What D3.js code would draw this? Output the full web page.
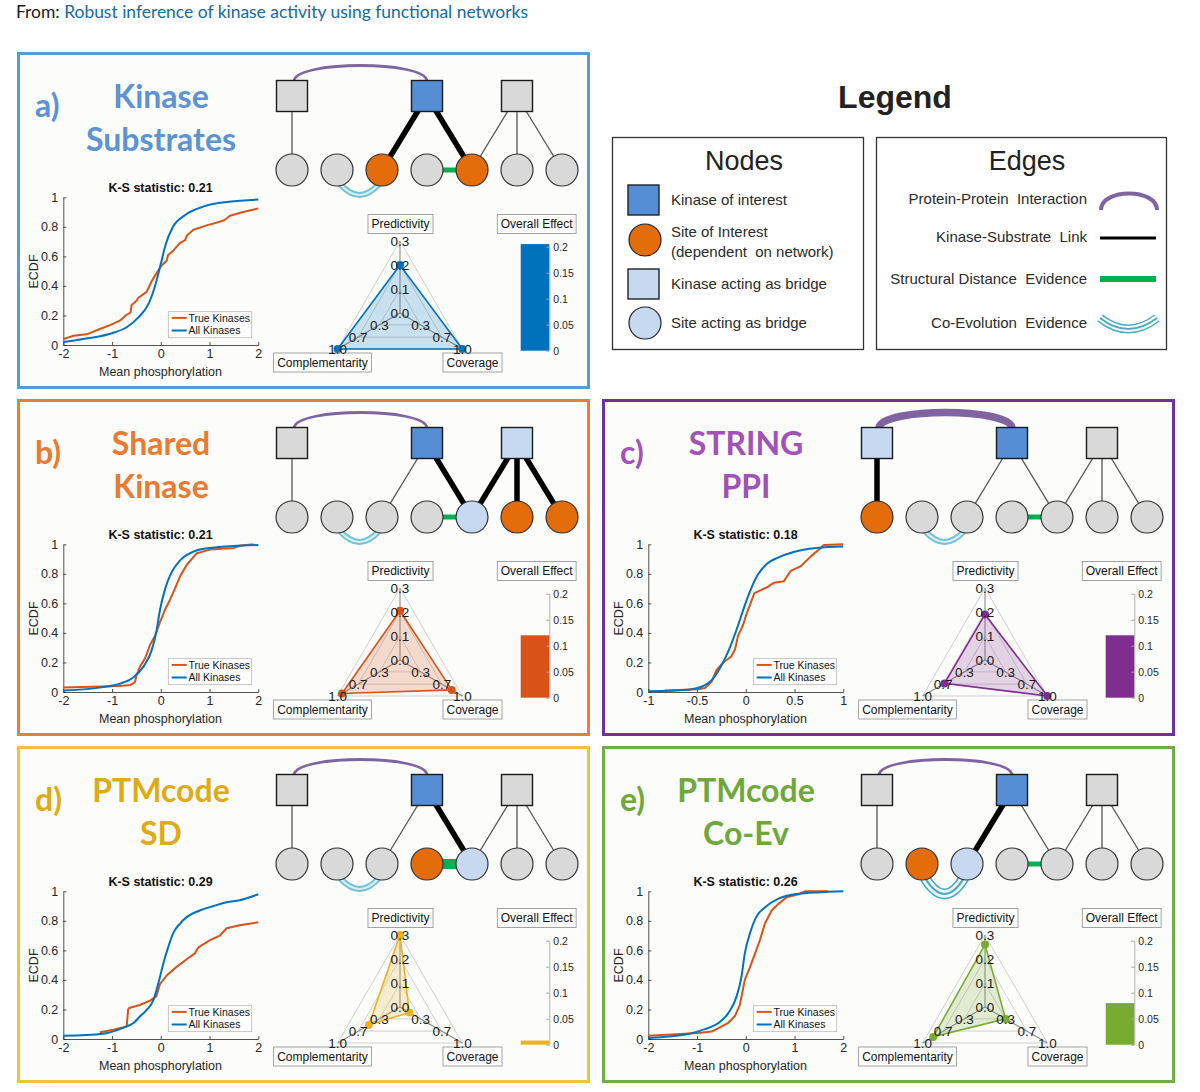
<!DOCTYPE html>
<html><head><meta charset="utf-8">
<script src="https://cdn.jsdelivr.net/npm/d3@7"></script>
<style>
body{margin:0;background:#fff;}
svg{display:block;}
text{font-family:"Liberation Sans",Arial,sans-serif;}
</style>
</head><body>
<svg id="chart" width="1200" height="1092"></svg>
<script>
// ---------------- DATA ----------------
const headerPrefix = "From: ";
const headerTitle = "Robust inference of kinase activity using functional networks";
const panelLabels = ["a)","b)","c)","d)","e)"];
const panelTitles = [["Kinase","Substrates"],["Shared","Kinase"],["STRING","PPI"],["PTMcode","SD"],["PTMcode","Co-Ev"]];
const ksStats = ["0.21","0.21","0.18","0.29","0.26"];
const seriesNames = ["True Kinases","All Kinases"];
const ecdfDomains = [[-2,2],[-2,2],[-1,1],[-2,2],[-2,2]];
const xTicksWide = [-2,-1,0,1,2];
const xTicksNarrow = [-1,-0.5,0,0.5,1];
const yTicks = [0,0.2,0.4,0.6,0.8,1];

const trueKinasesA = [[-2,0.04],[-1.79,0.063],[-1.52,0.072],[-1.25,0.108],[-1.04,0.135],[-0.84,0.165],[-0.72,0.2],[-0.62,0.22],[-0.6,0.27],[-0.5,0.3],[-0.46,0.32],[-0.29,0.36],[-0.19,0.43],[-0.09,0.485],[0.02,0.54],[0.12,0.57],[0.15,0.61],[0.26,0.64],[0.39,0.69],[0.5,0.71],[0.53,0.74],[0.67,0.78],[0.94,0.81],[1.21,0.835],[1.3,0.845],[1.42,0.875],[1.69,0.9],[2,0.925]];
const allKinasesA = [[-2,0.02],[-1.5,0.045],[-1,0.08],[-0.7,0.12],[-0.45,0.19],[-0.25,0.28],[-0.1,0.42],[0,0.55],[0.1,0.68],[0.25,0.8],[0.5,0.88],[0.9,0.94],[1.4,0.97],[2,0.985]];

const trueKinasesB = [[-2,0.03],[-0.84,0.04],[-0.63,0.047],[-0.53,0.067],[-0.5,0.11],[-0.43,0.17],[-0.32,0.23],[-0.22,0.32],[-0.12,0.38],[-0.02,0.47],[0.09,0.56],[0.19,0.625],[0.29,0.7],[0.39,0.78],[0.53,0.86],[0.74,0.94],[1.01,0.964],[1.49,0.975],[1.62,0.99],[1.9,1.0]];
const allKinasesB = [[-2,0.01],[-1.18,0.033],[-0.84,0.056],[-0.56,0.1],[-0.36,0.17],[-0.19,0.28],[-0.09,0.41],[-0.02,0.55],[0.09,0.7],[0.22,0.81],[0.39,0.89],[0.67,0.95],[1.01,0.975],[2,0.995]];

const trueKinasesC = [[-0.83,0.01],[-0.49,0.018],[-0.42,0.027],[-0.35,0.07],[-0.3,0.15],[-0.23,0.2],[-0.15,0.24],[-0.11,0.29],[-0.08,0.38],[-0.03,0.45],[0.003,0.52],[0.037,0.58],[0.088,0.67],[0.156,0.69],[0.22,0.71],[0.29,0.74],[0.39,0.75],[0.46,0.82],[0.56,0.85],[0.67,0.92],[0.77,0.975],[0.8,0.995],[1,1.0]];
const allKinasesC = [[-1,0.005],[-0.59,0.016],[-0.46,0.034],[-0.35,0.08],[-0.25,0.18],[-0.17,0.29],[-0.08,0.45],[-0.014,0.58],[0.054,0.7],[0.12,0.79],[0.22,0.87],[0.33,0.91],[0.5,0.95],[0.73,0.975],[1,0.985]];

const trueKinasesD = [[-1.25,0.045],[-0.97,0.063],[-0.7,0.085],[-0.67,0.2],[-0.65,0.21],[-0.43,0.23],[-0.22,0.26],[-0.09,0.29],[-0.02,0.37],[0.12,0.43],[0.33,0.49],[0.53,0.54],[0.7,0.58],[0.77,0.62],[1.01,0.67],[1.21,0.7],[1.35,0.75],[1.62,0.77],[2,0.79]];
const allKinasesD = [[-2,0.022],[-1.18,0.036],[-0.84,0.067],[-0.7,0.085],[-0.56,0.108],[-0.43,0.152],[-0.29,0.197],[-0.15,0.265],[-0.05,0.377],[0.05,0.51],[0.15,0.62],[0.26,0.72],[0.39,0.78],[0.53,0.825],[0.8,0.87],[1.08,0.9],[1.35,0.926],[1.62,0.94],[2,0.98]];

const trueKinasesE = [[-2,0.022],[-0.97,0.04],[-0.7,0.05],[-0.56,0.074],[-0.36,0.11],[-0.22,0.157],[-0.12,0.235],[-0.02,0.4],[0.09,0.49],[0.19,0.58],[0.29,0.67],[0.39,0.78],[0.53,0.87],[0.67,0.915],[0.84,0.96],[1.08,0.98],[1.21,1.0],[1.69,1.0]];
const allKinasesE = [[-2,0.007],[-1.18,0.034],[-0.84,0.067],[-0.56,0.108],[-0.36,0.175],[-0.19,0.287],[-0.09,0.42],[-0.02,0.58],[0.09,0.72],[0.22,0.83],[0.39,0.89],[0.67,0.95],[1.01,0.98],[2,1.0]];

const trueKinases = [trueKinasesA,trueKinasesB,trueKinasesC,trueKinasesD,trueKinasesE];
const allKinases = [allKinasesA,allKinasesB,allKinasesC,allKinasesD,allKinasesE];

const radarAxes = ["Predictivity","Complementarity","Coverage"];
const predictivity = [0.2,0.205,0.19,0.3,0.26];
const complementarity = [1.0,0.93,0.65,0.5,0.83];
const coverage = [1.0,0.83,1.0,0.15,0.33];
const predictivityTicks = [0,0.1,0.2,0.3];
const fractionTicks = [0.33,0.67,1.0];

const effectLabel = "Overall Effect";
const overallEffect = [0.205,0.12,0.12,0.008,0.08];
const effectTicks = [0,0.05,0.1,0.15,0.2];

// network node states per panel
const squareStates = [
  ["gray","kinase","gray"],
  ["gray","kinase","bridge"],
  ["bridge","kinase","gray"],
  ["gray","kinase","gray"],
  ["gray","kinase","gray"]];
const circleStates = [
  ["gray","gray","site","gray","site","gray","gray"],
  ["gray","gray","gray","gray","bridge","site","site"],
  ["site","gray","gray","gray","gray","gray","gray"],
  ["gray","gray","gray","site","bridge","gray","gray"],
  ["gray","site","bridge","gray","gray","gray","gray"]];
// edges: [type, from, to, weight]
const networkEdges = [
  [["ppi","S0","S1",1],["ks","S0","C0",0],["ks","S1","C2",1],["ks","S1","C4",1],["ks","S2","C4",0],["ks","S2","C5",0],["ks","S2","C6",0],["sd","C3","C4",1],["coev","C1","C2",1]],
  [["ppi","S0","S1",1],["ks","S0","C0",0],["ks","S1","C2",0],["ks","S1","C4",1],["ks","S2","C4",1],["ks","S2","C5",1],["ks","S2","C6",1],["sd","C3","C4",1],["coev","C1","C2",1]],
  [["ppi","S0","S1",2],["ks","S0","C0",1],["ks","S1","C2",0],["ks","S1","C4",0],["ks","S2","C4",0],["ks","S2","C5",0],["ks","S2","C6",0],["sd","C3","C4",1],["coev","C1","C2",1]],
  [["ppi","S0","S1",1],["ks","S0","C0",0],["ks","S1","C2",0],["ks","S1","C4",1],["ks","S2","C4",0],["ks","S2","C5",0],["ks","S2","C6",0],["sd","C3","C4",2],["coev","C1","C2",1]],
  [["ppi","S0","S1",1],["ks","S0","C0",0],["ks","S1","C2",1],["ks","S1","C4",0],["ks","S2","C4",0],["ks","S2","C5",0],["ks","S2","C6",0],["sd","C3","C4",1],["coev","C1","C2",2]]];

const legendTitle = "Legend";
const nodeLegendTitle = "Nodes";
const nodeLegendItems = [["kinase","square",["Kinase of interest"]],["site","circle",["Site of Interest","(dependent  on network)"]],["bridge","square",["Kinase acting as bridge"]],["bridge","circle",["Site acting as bridge"]]];
const edgeLegendTitle = "Edges";
const edgeLegendItems = [["ppi","Protein-Protein  Interaction"],["ks","Kinase-Substrate  Link"],["sd","Structural Distance  Evidence"],["coev","Co-Evolution  Evidence"]];

// ---------------- STYLE / LAYOUT ----------------
const panelOffsets = [[0,0],[0,347],[585,347],[0,694],[585,694]];
const borderColors = ["#5b9bd5","#ed7d31","#7030a0","#f3c23c","#70ad47"];
const titleColors = ["#5b93d3","#e97a30","#a052b8","#dfab12","#6ea83a"];
const seriesColors = ["#0072BD","#D95319","#7E2F8E","#EDB120","#77AC30"];
const trueColor = "#D95319", allColor = "#0072BD";
const nodeFill = {gray:"#d9d9d9", kinase:"#558ed5", bridge:"#c6d9f1", site:"#e46c0a"};
const axisInk = "#262626";

const svg = d3.select("#chart");

// header
const header = svg.append("text").attr("x",16).attr("y",18)
  .attr("textLength",512).attr("lengthAdjust","spacingAndGlyphs")
  .style("font-family","Lato, sans-serif").style("font-size","18px");
header.append("tspan").attr("fill","#1a1a1a").text(headerPrefix);
header.append("tspan").attr("fill","#156a9f").text(headerTitle);

function ppiPath(x1,x2,top){
  return `M${x1},${top} C${x1+4},${top-20} ${x2-4},${top-20} ${x2},${top}`;
}
function coevDraw(g,x1,x2,y0,w){
  const dip = w>1 ? 32 : 22;
  const d = `M${x1},${y0} Q${(x1+x2)/2},${y0+dip} ${x2},${y0}`;
  if(w>1){
    g.append("path").attr("d",d).attr("fill","none").attr("stroke","#4bacc6").attr("stroke-width",11);
    g.append("path").attr("d",d).attr("fill","none").attr("stroke","#f4fbfd").attr("stroke-width",7.5);
    g.append("path").attr("d",d).attr("fill","none").attr("stroke","#4bacc6").attr("stroke-width",2.2);
  } else {
    g.append("path").attr("d",d).attr("fill","none").attr("stroke","#72c2d4").attr("stroke-width",6);
    g.append("path").attr("d",d).attr("fill","none").attr("stroke","#d6eff5").attr("stroke-width",2.2);
  }
}

function drawPanel(i){
  const [ox,oy] = panelOffsets[i];
  const g = svg.append("g").attr("transform",`translate(${ox},${oy})`);
  const col = seriesColors[i];

  g.append("rect").attr("x",18.5).attr("y",53.5).attr("width",570).attr("height",334)
    .attr("fill","#fcfcfb").attr("stroke",borderColors[i]).attr("stroke-width",3);

  g.append("text").attr("x",35).attr("y",117).attr("fill",titleColors[i])
    .style("font-family","Lato, sans-serif").style("font-weight",700).style("font-size","32px")
    .text(panelLabels[i]);
  panelTitles[i].forEach((t,k)=>{
    g.append("text").attr("x",161).attr("y",107.5+k*43).attr("text-anchor","middle")
      .attr("fill",titleColors[i])
      .style("font-family","Lato, sans-serif").style("font-weight",700).style("font-size","32px")
      .text(t);
  });

  // ---- network ----
  const cx = d3.scalePoint().domain(d3.range(7)).range([292,562]);
  const squareSlots = [0,3,5];
  const sqY = 96, ciY = 170;
  const pos = id => id[0]==="S" ? [cx(squareSlots[+id.slice(1)]), sqY] : [cx(+id.slice(1)), ciY];
  const ng = g.append("g");
  networkEdges[i].forEach(([type,a,b,w])=>{
    const [x1,y1] = pos(a), [x2,y2] = pos(b);
    if(type==="ks"){
      ng.append("line").attr("x1",x1).attr("y1",y1).attr("x2",x2).attr("y2",y2)
        .attr("stroke", w ? "#000" : "#555").attr("stroke-width", w ? 5.5 : 1.3);
    } else if(type==="sd"){
      ng.append("line").attr("x1",x1).attr("y1",y1).attr("x2",x2).attr("y2",y2)
        .attr("stroke","#00b050").attr("stroke-width", w>1 ? 10 : 5);
    } else if(type==="ppi"){
      ng.append("path").attr("d",ppiPath(x1+2,x2,sqY-15.5)).attr("fill","none")
        .attr("stroke","#8064a2").attr("stroke-width", w>1 ? 7.5 : 2.8);
    } else if(type==="coev"){
      coevDraw(ng,x1+3,x2-3,ciY+14,w);
    }
  });
  squareStates[i].forEach((s,k)=>{
    const [x,y] = pos("S"+k);
    ng.append("rect").attr("x",x-15.5).attr("y",y-15.5).attr("width",31).attr("height",31)
      .attr("fill",nodeFill[s]).attr("stroke","#1a1a1a").attr("stroke-width",1.4);
  });
  circleStates[i].forEach((s,k)=>{
    const [x,y] = pos("C"+k);
    ng.append("circle").attr("cx",x).attr("cy",y).attr("r",16)
      .attr("fill",nodeFill[s]).attr("stroke","#333").attr("stroke-width",1.2);
  });

  // ---- ECDF ----
  const xs = d3.scaleLinear().domain(ecdfDomains[i]).range([63.3,258.3]);
  const ys = d3.scaleLinear().domain([0,1]).range([345,197.3]);
  const xt = ecdfDomains[i][0]===-1 ? xTicksNarrow : xTicksWide;
  const xa = g.append("g").attr("transform","translate(0,345)")
    .call(d3.axisBottom(xs).tickValues(xt).tickSizeInner(-3).tickSizeOuter(0).tickPadding(4).tickFormat(d=>String(d)));
  const ya = g.append("g").attr("transform","translate(63.3,0)")
    .call(d3.axisLeft(ys).tickValues(yTicks).tickSizeInner(-3).tickSizeOuter(0).tickPadding(5).tickFormat(d3.format("~g")));
  [xa,ya].forEach(a=>{
    a.select(".domain").attr("stroke",axisInk).attr("stroke-width",0.8);
    a.selectAll(".tick line").attr("stroke",axisInk).attr("stroke-width",0.8);
    a.selectAll(".tick text").attr("fill",axisInk).style("font-size","12.5px").style("font-family","'Liberation Sans',Arial,sans-serif");
  });
  const line = d3.line().x(d=>xs(d[0])).y(d=>ys(d[1]));
  g.append("path").datum(trueKinases[i]).attr("d",line).attr("fill","none")
    .attr("stroke",trueColor).attr("stroke-width",2).attr("stroke-linejoin","round");
  g.append("path").datum(allKinases[i]).attr("d",line.curve(d3.curveMonotoneX)).attr("fill","none")
    .attr("stroke",allColor).attr("stroke-width",2);
  g.append("text").attr("x",160.5).attr("y",192).attr("text-anchor","middle")
    .style("font-weight",700).style("font-size","12.5px").attr("fill","#111")
    .text("K-S statistic: "+ksStats[i]);
  g.append("text").attr("x",160.5).attr("y",375.5).attr("text-anchor","middle")
    .style("font-size","12.5px").attr("fill",axisInk).text("Mean phosphorylation");
  g.append("text").attr("transform","translate(38,271.5) rotate(-90)").attr("text-anchor","middle")
    .style("font-size","12.5px").attr("fill",axisInk).text("ECDF");
  // legend
  g.append("rect").attr("x",168.3).attr("y",311.7).attr("width",83.4).attr("height",26)
    .attr("fill","#fff").attr("stroke","#b0b0b0").attr("stroke-width",0.7);
  [[trueColor,317.9],[allColor,330.5]].forEach(([c,y],k)=>{
    g.append("line").attr("x1",171.7).attr("x2",186.7).attr("y1",y).attr("y2",y).attr("stroke",c).attr("stroke-width",2);
    g.append("text").attr("x",188.5).attr("y",y+3.8).style("font-size","10.5px").attr("fill","#111").text(seriesNames[k]);
  });

  // ---- radar ----
  const rc = [400,313], R = 72;
  const dirs = [[0,-1],[-Math.cos(Math.PI/6),0.5],[Math.cos(Math.PI/6),0.5]];
  const pScale = d3.scaleLinear().domain([0,0.3]).range([0,R]);
  const fScale = d3.scaleLinear().domain([0,1]).range([0,R]);
  const pt = (k,r)=>[rc[0]+dirs[k][0]*r, rc[1]+dirs[k][1]*r];
  const rg = g.append("g");
  fractionTicks.forEach(t=>{
    const r = fScale(t);
    rg.append("polygon").attr("points",[0,1,2].map(k=>pt(k,r).join(",")).join(" "))
      .attr("fill","none").attr("stroke","#cfcfcf").attr("stroke-width",1);
  });
  [0,1,2].forEach(k=>{
    const [x,y]=pt(k,R);
    rg.append("line").attr("x1",rc[0]).attr("y1",rc[1]).attr("x2",x).attr("y2",y)
      .attr("stroke","#8a8a8a").attr("stroke-width",1.1);
  });
  const vals = [pScale(predictivity[i]), fScale(complementarity[i]), fScale(coverage[i])];
  const poly = vals.map((r,k)=>pt(k,r));
  rg.append("polygon").attr("points",poly.map(p=>p.join(",")).join(" "))
    .attr("fill",col).attr("fill-opacity",0.2).attr("stroke",col).attr("stroke-width",1.6);
  poly.forEach(p=>rg.append("circle").attr("cx",p[0]).attr("cy",p[1]).attr("r",4).attr("fill",col));
  predictivityTicks.forEach(t=>{
    const [x,y]=pt(0,pScale(t));
    rg.append("text").attr("x",x).attr("y",y).attr("dy","0.35em").attr("text-anchor","middle")
      .style("font-size","13.5px").attr("fill","#1a1a1a").text(t.toFixed(1));
  });
  [1,2].forEach(k=>fractionTicks.forEach(t=>{
    const [x,y]=pt(k,fScale(t));
    rg.append("text").attr("x",x).attr("y",y).attr("dy","0.35em").attr("text-anchor","middle")
      .style("font-size","13.5px").attr("fill","#1a1a1a").text(t.toFixed(1));
  }));
  const boxLabel = (txt,x,y)=>{
    const t = rg.append("text").attr("x",x).attr("y",y).attr("dy","0.35em").attr("text-anchor","middle")
      .style("font-size","12px").attr("fill","#111").text(txt);
    const w = t.node().getComputedTextLength();
    rg.insert("rect","text").attr("x",x-w/2-3.5).attr("y",y-9.5).attr("width",w+7).attr("height",19)
      .attr("fill","#fff").attr("stroke","#8c8c8c").attr("stroke-width",0.8);
  };
  boxLabel(radarAxes[0],400.5,224);
  boxLabel(radarAxes[1],322.5,362.5);
  boxLabel(radarAxes[2],472.5,362.5);
  boxLabel(effectLabel,536.7,224);

  // ---- bar ----
  const yb = d3.scaleLinear().domain([0,0.2]).range([350.7,246.7]);
  g.append("rect").attr("x",520.7).attr("y",yb(overallEffect[i])).attr("width",28.6)
    .attr("height",yb(0)-yb(overallEffect[i])).attr("fill",col);
  const ba = g.append("g").attr("transform","translate(549.3,0)")
    .call(d3.axisRight(yb).tickValues(effectTicks).tickSizeInner(-3).tickSizeOuter(0).tickPadding(4).tickFormat(d3.format("~g")));
  ba.select(".domain").attr("stroke","#a0a0a0").attr("stroke-width",0.8);
  ba.selectAll(".tick line").attr("stroke","#a0a0a0");
  ba.selectAll(".tick text").attr("fill",axisInk).style("font-size","10.5px").style("font-family","'Liberation Sans',Arial,sans-serif");
}

d3.range(5).forEach(drawPanel);

// ---------------- LEGEND ----------------
const lg = svg.append("g").style("font-family","Lato, sans-serif");
lg.append("text").attr("x",895).attr("y",108).attr("text-anchor","middle")
  .style("font-weight",700).style("font-size","32px").attr("fill","#222").text(legendTitle);
lg.append("rect").attr("x",612.5).attr("y",137.5).attr("width",251).attr("height",212)
  .attr("fill","#fff").attr("stroke","#333").attr("stroke-width",1.3);
lg.append("rect").attr("x",876.5).attr("y",137.5).attr("width",290).attr("height",212)
  .attr("fill","#fff").attr("stroke","#333").attr("stroke-width",1.3);
lg.append("text").attr("x",744).attr("y",170).attr("text-anchor","middle")
  .style("font-size","27px").attr("fill","#222").text(nodeLegendTitle);
lg.append("text").attr("x",1027).attr("y",170).attr("text-anchor","middle")
  .style("font-size","27px").attr("fill","#222").text(edgeLegendTitle);

const nodeRowY = [200,240,284,323];
nodeLegendItems.forEach(([state,shape,lines],k)=>{
  const y = nodeRowY[k];
  if(shape==="square"){
    lg.append("rect").attr("x",628).attr("y",y-15).attr("width",31).attr("height",30)
      .attr("fill",nodeFill[state]).attr("stroke","#222").attr("stroke-width",1.4);
  } else {
    lg.append("circle").attr("cx",645).attr("cy",y).attr("r",16)
      .attr("fill",nodeFill[state]).attr("stroke","#222").attr("stroke-width",1.2);
  }
  lines.forEach((t,j)=>{
    const ty = lines.length>1 ? y-8+j*20 : y;
    lg.append("text").attr("x",671).attr("y",ty+5.4).style("font-size","15px").style("white-space","pre")
      .attr("fill","#2a2a2a").text(t);
  });
});

const edgeRowY = [199,237,279,323];
edgeLegendItems.forEach(([type,label],k)=>{
  const y = edgeRowY[k];
  lg.append("text").attr("x",1087).attr("y",y+5.4).attr("text-anchor","end")
    .style("font-size","15px").style("white-space","pre").attr("fill","#2a2a2a").text(label);
  if(type==="ppi"){
    lg.append("path").attr("d",`M1101,${y+11} C1101,${y-11} 1157,${y-11} 1157,${y+11}`)
      .attr("fill","none").attr("stroke","#8064a2").attr("stroke-width",4);
  } else if(type==="ks"){
    lg.append("line").attr("x1",1100).attr("x2",1156).attr("y1",y+1).attr("y2",y+1).attr("stroke","#000").attr("stroke-width",3);
  } else if(type==="sd"){
    lg.append("line").attr("x1",1100).attr("x2",1156).attr("y1",y).attr("y2",y).attr("stroke","#00b050").attr("stroke-width",6);
  } else {
    const d = `M1100,${y-5} Q1128,${y+17} 1157,${y-5}`;
    lg.append("path").attr("d",d).attr("fill","none").attr("stroke","#4bacc6").attr("stroke-width",9);
    lg.append("path").attr("d",d).attr("fill","none").attr("stroke","#fff").attr("stroke-width",6);
    lg.append("path").attr("d",d).attr("fill","none").attr("stroke","#4bacc6").attr("stroke-width",2);
  }
});
</script>
</body></html>
